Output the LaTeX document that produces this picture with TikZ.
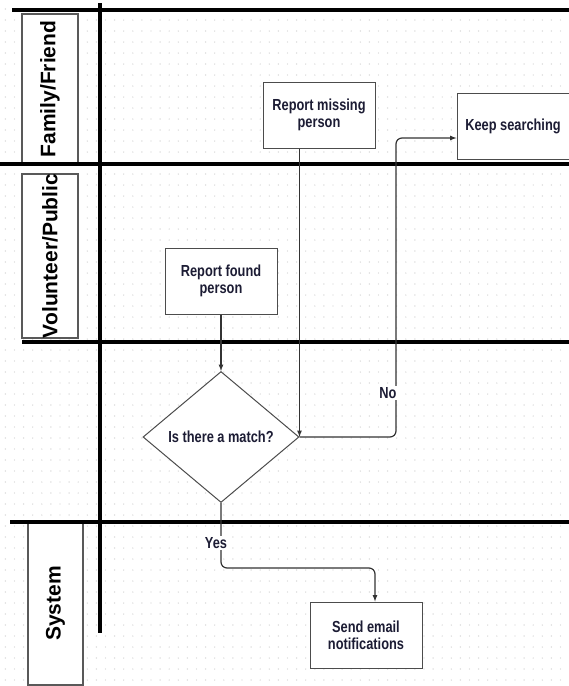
\documentclass[tikz,border=0pt]{standalone}
\usepackage{fontspec}
\setmainfont{Liberation Sans}
\newfontfamily\estrecha[FakeStretch=0.8]{Liberation Sans}
\usepackage{pgf,tikz}
\usetikzlibrary{shapes, arrows, positioning}
\definecolor{tinta}{RGB}{28,28,52}
\tikzstyle{carril} = [draw=black, line width=3.5pt]
\tikzstyle{actor} = [draw=black!65, fill=white, line width=1.2pt, rectangle, rotate=90, inner sep=0pt, minimum height=56pt, font=\fontsize{21}{21}\selectfont\bfseries]
\tikzstyle{proceso} = [draw=black!70, fill=white, line width=1pt, rectangle, minimum width=112pt, minimum height=66pt, align=center, text=tinta, font=\estrecha\fontsize{16}{17}\selectfont\bfseries]
\tikzstyle{decision} = [proceso, diamond, aspect=1.19, minimum width=156pt, minimum height=131pt, inner sep=0pt]
\tikzstyle{flecha} = [draw=black!80, line width=1.2pt, -latex, rounded corners=6pt]
\tikzstyle{respuesta} = [fill=white, text=tinta, inner sep=1pt, font=\estrecha\fontsize{16}{16}\selectfont\bfseries]

\begin{document}
\begin{tikzpicture}[x=1pt, y=-1pt]
	\useasboundingbox (0,0) rectangle (569,686);
	\foreach \x in {5.4,14.5,...,569}
		\foreach \y in {9,20,...,686}
			\fill[black!18] (\x,\y) circle (0.7pt);
	\node[actor, minimum width=150pt] (familia) at (50,89) {Family/Friend};
	\node[actor, minimum width=164pt] (voluntario) at (50,256) {Volunteer/Public};
	\node[actor, minimum width=163pt, minimum height=55pt] (sistema) at (55.5,603.5) {System};
	\draw[carril] (12,10) -- (569,10);
	\draw[carril] (0,164) -- (569,164);
	\draw[carril] (22,342) -- (569,342);
	\draw[carril] (10,522) -- (569,522);
	\draw[carril] (100,3) -- (100,633);
	\node[proceso] (desaparecido) at (319,115) {Report missing\\person};
	\node[proceso] (seguir) at (513,126) {Keep searching};
	\node[proceso] (encontrado) at (221,281) {Report found\\person};
	\node[decision] (coincide) at (221,437) {Is there a match?};
	\node[proceso] (avisar) at (366,635) {Send email\\notifications};
	\coordinate (codoNo) at (396,138);
	\coordinate (codoSi) at (375,568);
	\draw[flecha] (encontrado) -- (coincide);
	\draw[flecha] (desaparecido.south -| coincide.east) -- (coincide.east);
	\draw[flecha] (coincide.east) -| (codoNo) -- (codoNo -| seguir.west);
	\draw[flecha] (coincide.south) |- (codoSi) -- (codoSi |- avisar.north);
	\node[respuesta] (no) at (388,393) {No};
	\node[respuesta] (si) at (216,543) {Yes};
\end{tikzpicture}
\end{document}
